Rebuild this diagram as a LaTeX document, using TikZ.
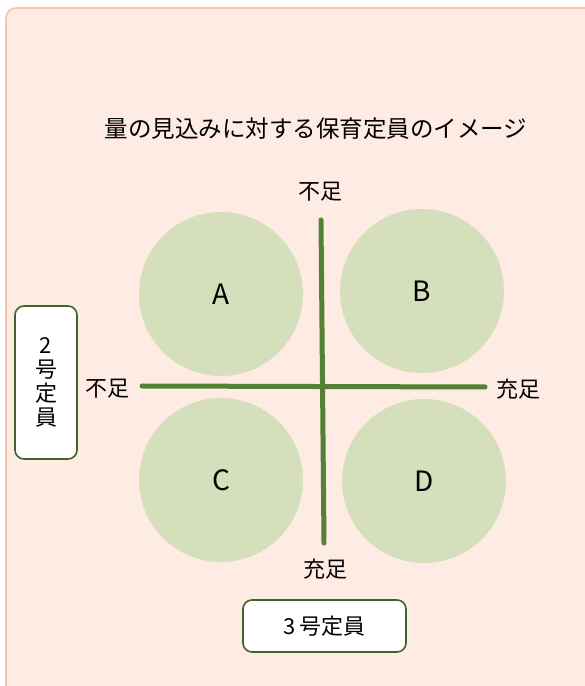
\documentclass[tikz,border=0pt]{standalone}
\usepackage{fontspec}
\setmainfont{Noto Sans CJK JP}
\usepackage{tkz-euclide}

\definecolor{bgfill}{HTML}{FDEBE4}
\definecolor{bgline}{HTML}{F7C3AD}
\definecolor{blobfill}{HTML}{D5DFBB}
\definecolor{axisgreen}{HTML}{548235}
\definecolor{boxline}{HTML}{3F6428}

\tikzset{
  blob/.style={circle,fill=blobfill,minimum size=164pt,inner sep=0pt,font=\fontsize{28}{32}\selectfont},
  axislabel/.style={font=\fontsize{22}{25}\selectfont},
  staffbox/.style={draw=boxline,line width=1.6pt,fill=white,rounded corners=9pt,inner sep=0pt,font=\fontsize{22}{25}\selectfont}
}

\begin{document}
\begin{tikzpicture}[x=1pt,y=1pt]
                \useasboundingbox (0,0) rectangle (585,686);
                \draw[bgline,fill=bgfill,line width=1.6pt,rounded corners=10pt] (6,678) rectangle (610,-20);
                \node[font=\fontsize{23.5}{26}\selectfont] (title) at (316,557) {量の見込みに対する保育定員のイメージ};
                \node[blob] (a) at (221,392) {A};
                \node[blob] (b) at (422,395) {B};
                \node[blob] (c) at (221,206) {C};
                \node[blob] (d) at (424,205) {D};
                \tkzDefPoints{321/466/T,324/143/U,142/300/L,485/299/R}
                \tkzDrawSegments[axisgreen,line width=5pt,line cap=round](T,U L,R)
                \node[axislabel] (top) at (320,494) {不足};
                \node[axislabel] (bottom) at (325,117) {充足};
                \node[axislabel] (left) at (107,297) {不足};
                \node[axislabel] (right) at (518,297) {充足};
                \node[staffbox,minimum width=62pt,minimum height=153pt,align=center] (two) at (46,303.5)
                  {2\\[-1pt]号\\[-1pt]定\\[-1pt]員};
                \node[staffbox,minimum width=163pt,minimum height=52pt] (three) at (324.5,60) {3\hspace{4pt}号定員};
            \end{tikzpicture}
\end{document}
